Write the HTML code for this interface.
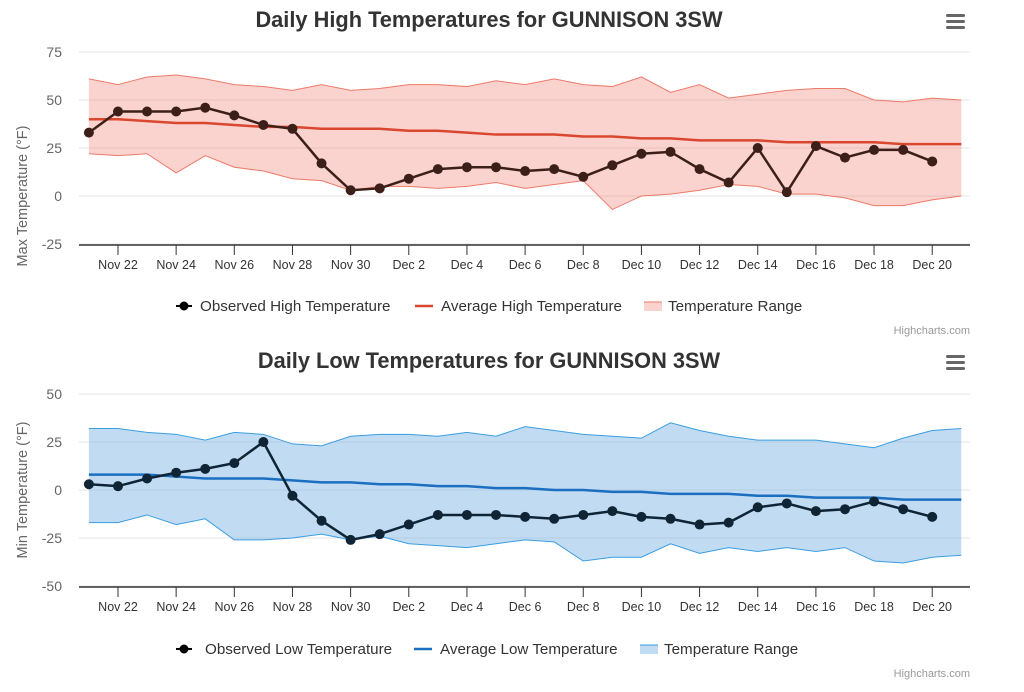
<!DOCTYPE html>
<html><head><meta charset="utf-8"><style>
html,body{margin:0;padding:0;background:#fff;width:1024px;height:692px;overflow:hidden}
svg text{font-family:"Liberation Sans",sans-serif}
</style></head><body>
<svg id="s" width="1024" height="692" xmlns="http://www.w3.org/2000/svg"></svg>
<script>
const S=document.getElementById('s');let h='';
const X=i=>88.9+i*29.08;
const days=['Nov 22','Nov 24','Nov 26','Nov 28','Nov 30','Dec 2','Dec 4','Dec 6','Dec 8','Dec 10','Dec 12','Dec 14','Dec 16','Dec 18','Dec 20'];
function chart(o){
 const Y=v=>o.y0-v*1.92;
 h+=`<text x="489" y="${o.ty}" text-anchor="middle" font-size="21.8" font-weight="bold" fill="#333">${o.title}</text>`;
 for(let k=0;k<3;k++)h+=`<rect x="946" y="${o.ty-13+k*6}" width="19" height="3" rx="1.5" fill="#666"/>`;
 o.ticks.forEach(t=>{h+=`<line x1="79" x2="970" y1="${Y(t)}" y2="${Y(t)}" stroke="#e6e6e6"/>`;
  h+=`<text x="62" y="${Y(t)+5}" text-anchor="end" font-size="14" fill="#666">${t}</text>`;});
 h+=`<text transform="translate(27,${o.y0}) rotate(-90)" text-anchor="middle" font-size="14.5" fill="#666">${o.ylab}</text>`;
 let p=o.top.map((v,i)=>X(i)+','+Y(v)).join(' ');let q=o.bot.map((v,i)=>X(i)+','+Y(v)).reverse().join(' ');
 h+=`<polygon points="${p} ${q}" fill="${o.fill}"/>`;
 h+=`<polyline points="${p}" fill="none" stroke="${o.rs}" stroke-width="1"/>`;
 h+=`<polyline points="${o.bot.map((v,i)=>X(i)+','+Y(v)).join(' ')}" fill="none" stroke="${o.rs}" stroke-width="1"/>`;
 h+=`<polyline points="${o.avg.map((v,i)=>X(i)+','+Y(v)).join(' ')}" fill="none" stroke="${o.ac}" stroke-width="2.5"/>`;
 h+=`<polyline points="${o.obs.map((v,i)=>X(i)+','+Y(v)).join(' ')}" fill="none" stroke="${o.oc}" stroke-width="2.5"/>`;
 o.obs.forEach((v,i)=>h+=`<circle cx="${X(i)}" cy="${Y(v)}" r="5" fill="${o.oc}"/>`);
 const ay=o.ax;
 h+=`<line x1="79" x2="970" y1="${ay}" y2="${ay}" stroke="#333" stroke-width="1.5"/>`;
 days.forEach((d,k)=>{const x=X(1+2*k);h+=`<line x1="${x}" x2="${x}" y1="${ay}" y2="${ay+10}" stroke="#333"/>`;
  h+=`<text x="${x}" y="${ay+24}" text-anchor="middle" font-size="12.5" fill="#333">${d}</text>`;});
 const ly=o.ly;
 h+=`<line x1="176" x2="192" y1="${ly}" y2="${ly}" stroke="#000" stroke-width="2"/><circle cx="184" cy="${ly}" r="4.5" fill="#000"/>`;
 h+=`<text x="${o.l1x}" y="${ly+5}" font-size="15.2" fill="#333">${o.l1}</text>`;
 h+=`<line x1="${o.l2x-26}" x2="${o.l2x-8}" y1="${ly}" y2="${ly}" stroke="${o.ac}" stroke-width="2.5"/>`;
 h+=`<text x="${o.l2x}" y="${ly+5}" font-size="15.2" fill="#333">${o.l2}</text>`;
 h+=`<rect x="${o.l3x-24}" y="${ly-4}" width="18" height="9" fill="${o.fill}"/><line x1="${o.l3x-24}" x2="${o.l3x-6}" y1="${ly-4}" y2="${ly-4}" stroke="${o.rs}"/>`;
 h+=`<text x="${o.l3x}" y="${ly+5}" font-size="15.2" fill="#333">Temperature Range</text>`;
 h+=`<text x="970" y="${o.cy}" text-anchor="end" font-size="11" fill="#999">Highcharts.com</text>`;
}
chart({ty:27,title:'Daily High Temperatures for GUNNISON 3SW',y0:196,ticks:[75,50,25,0,-25],ylab:'Max Temperature (°F)',ax:245,ly:306,cy:334,
 fill:'rgba(240,110,95,0.3)',rs:'#ee7a68',ac:'#d9472e',oc:'#3d1f1a',
 l1:'Observed High Temperature',l1x:200,l2:'Average High Temperature',l2x:441,l3x:668,
 obs:[33,44,44,44,46,42,37,35,17,3,4,9,14,15,15,13,14,10,16,22,23,14,7,25,2,26,20,24,24,18],
 avg:[40,40,39,38,38,37,36,36,35,35,35,34,34,33,32,32,32,31,31,30,30,29,29,29,28,28,28,28,27,27,27],
 top:[61,58,62,63,61,58,57,55,58,55,56,58,58,57,60,58,61,58,57,62,54,58,51,53,55,56,56,50,49,51,50],
 bot:[22,21,22,12,21,15,13,9,8,3,5,5,4,5,7,4,6,8,-7,0,1,3,6,5,1,1,-1,-5,-5,-2,0]});
chart({ty:368,title:'Daily Low Temperatures for GUNNISON 3SW',y0:490,ticks:[50,25,0,-25,-50],ylab:'Min Temperature (°F)',ax:587,ly:649,cy:677,
 fill:'rgba(100,165,225,0.4)',rs:'#3a9ee0',ac:'#1a6fc0',oc:'#0f2535',
 l1:'Observed Low Temperature',l1x:205,l2:'Average Low Temperature',l2x:440,l3x:664,
 obs:[3,2,6,9,11,14,25,-3,-16,-26,-23,-18,-13,-13,-13,-14,-15,-13,-11,-14,-15,-18,-17,-9,-7,-11,-10,-6,-10,-14],
 avg:[8,8,8,7,6,6,6,5,4,4,3,3,2,2,1,1,0,0,-1,-1,-2,-2,-2,-3,-3,-4,-4,-4,-5,-5,-5],
 top:[32,32,30,29,26,30,29,24,23,28,29,29,28,30,28,33,31,29,28,27,35,31,28,26,26,26,24,22,27,31,32],
 bot:[-17,-17,-13,-18,-15,-26,-26,-25,-23,-26,-24,-28,-29,-30,-28,-26,-27,-37,-35,-35,-28,-33,-30,-32,-30,-32,-30,-37,-38,-35,-34]});
S.innerHTML=h;
</script>
</body></html>
